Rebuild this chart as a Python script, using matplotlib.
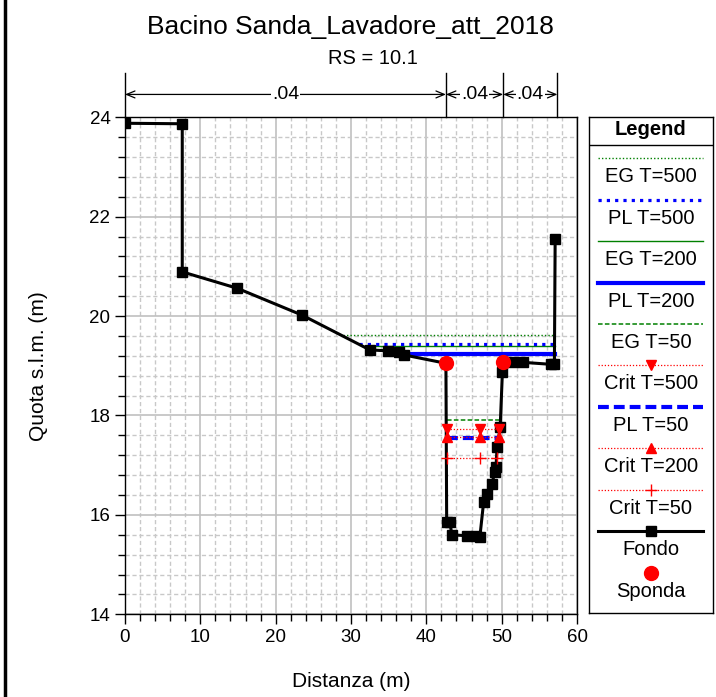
import matplotlib
matplotlib.use('Agg')
import matplotlib.pyplot as plt
from matplotlib.lines import Line2D
from matplotlib.ticker import MultipleLocator

plt.rcParams['font.family'] = ['Liberation Sans', 'DejaVu Sans']

# ---------------- data ----------------
fondo_x = [0, 7.6, 7.6, 14.9, 23.5, 32.5, 34.95, 36.4, 37.0, 42.6, 42.7, 43.1, 43.4,
           45.4, 46.6, 47.1, 47.6, 48.1, 48.7, 49.1, 49.25, 49.4, 49.8, 50.1, 50.2,
           51.5, 52.8, 56.5, 57.0, 57.1]
fondo_y = [23.88, 23.87, 20.89, 20.56, 20.02, 19.32, 19.30, 19.28, 19.22, 19.05, 15.86,
           15.86, 15.60, 15.58, 15.58, 15.55, 16.25, 16.43, 16.62, 16.87, 16.97, 17.37,
           17.76, 18.88, 19.08, 19.08, 19.07, 19.03, 19.04, 21.55]

sponda_x = [42.6, 50.2]
sponda_y = [19.05, 19.08]

eg500_x = [28.9, 57.1]; eg500_y = [19.61, 19.61]
pl500_x = [31.1, 57.1]; pl500_y = [19.43, 19.43]
eg200_x = [31.5, 57.1]; eg200_y = [19.40, 19.40]
pl200_x = [36.9, 57.1]; pl200_y = [19.24, 19.24]
eg50_x = [42.7, 49.8]; eg50_y = [17.91, 17.91]
crit500_x = [42.7, 47.1, 49.7]; crit500_y = [17.72, 17.72, 17.72]
pl50_x = [42.7, 49.7]; pl50_y = [17.54, 17.54]
crit200_x = [42.7, 47.1, 49.7]; crit200_y = [17.57, 17.57, 17.57]
crit50_x = [42.7, 47.1, 49.4]; crit50_y = [17.15, 17.15, 17.15]

n_breaks = [0, 42.6, 50.2, 57.4]
n_values = [0.04, 0.04, 0.04]

title = "Bacino Sanda_Lavadore_att_2018"
subtitle = "RS = 10.1"
legend_labels = ["EG T=500", "PL T=500", "EG T=200", "PL T=200", "EG T=50",
                 "Crit T=500", "PL T=50", "Crit T=200", "Crit T=50", "Fondo", "Sponda"]

# ---------------- styles ----------------
GREEN = '#008000'
BLUE = '#0000ff'
RED = '#ff0000'
styles = {
    "EG T=500": dict(color=GREEN, lw=1.0, ls=(0, (1, 1.5))),
    "PL T=500": dict(color=BLUE, lw=2.3, ls=(0, (1, 1.6))),
    "EG T=200": dict(color=GREEN, lw=1.0, ls='-'),
    "PL T=200": dict(color=BLUE, lw=3.0, ls='-'),
    "EG T=50": dict(color=GREEN, lw=1.1, ls=(0, (3, 1.5))),
    "Crit T=500": dict(color=RED, lw=0.9, ls=(0, (1, 1.5)), marker='v', ms=6.5),
    "PL T=50": dict(color=BLUE, lw=3.0, ls=(0, (2.6, 1.2))),
    "Crit T=200": dict(color=RED, lw=0.9, ls=(0, (1, 1.5)), marker='^', ms=6.5),
    "Crit T=50": dict(color=RED, lw=0.9, ls=(0, (1, 1.5)), marker='+', ms=8, mew=1.0),
    "Fondo": dict(color='black', lw=2.2, ls='-', marker='s', ms=6.8),
    "Sponda": dict(color=RED, lw=0, ls='none', marker='o', ms=10),
}

fig = plt.figure(figsize=(7.16, 6.97), dpi=100)
W, H = 716, 697
ax = fig.add_axes([125 / W, 1 - 614.3 / H, (577 - 125) / W, (614.3 - 117.3) / H])

ax.set_xlim(0, 60)
ax.set_ylim(14, 24)
ax.xaxis.set_major_locator(MultipleLocator(10))
ax.xaxis.set_minor_locator(MultipleLocator(2))
ax.yaxis.set_major_locator(MultipleLocator(2))
ax.yaxis.set_minor_locator(MultipleLocator(0.4))
ax.grid(which='major', color='#c0c0c0', lw=1.2, ls='-')
ax.grid(which='minor', color='#c8c8c8', lw=1.0, ls=(0, (3, 2)))
ax.set_axisbelow(True)
ax.tick_params(which='major', direction='out', length=7, width=1, labelsize=13.5, color='black')
ax.tick_params(which='minor', direction='out', length=5, width=1, color='black')
for s in ax.spines.values():
    s.set_linewidth(1.0)

series = [
    ("EG T=500", eg500_x, eg500_y),
    ("EG T=200", eg200_x, eg200_y),
    ("EG T=50", eg50_x, eg50_y),
    ("PL T=500", pl500_x, pl500_y),
    ("PL T=200", pl200_x, pl200_y),
    ("PL T=50", pl50_x, pl50_y),
]
for name, xs, ys in series:
    st = styles[name]
    ax.plot(xs, ys, color=st['color'], lw=st['lw'], ls=st['ls'], zorder=3)

st = styles["Fondo"]
ax.plot(fondo_x, fondo_y, color='black', lw=st['lw'], marker='s', ms=st['ms'], zorder=4)

for name, xs, ys in [("Crit T=500", crit500_x, crit500_y),
                     ("Crit T=200", crit200_x, crit200_y),
                     ("Crit T=50", crit50_x, crit50_y)]:
    st = styles[name]
    ax.plot(xs, ys, color=st['color'], lw=st['lw'], ls=st['ls'], marker=st['marker'],
            ms=st['ms'], mew=st.get('mew', 1.0), zorder=5)

ax.plot(sponda_x, sponda_y, ls='none', marker='o', ms=10, color=RED, zorder=6)

ax.set_xlabel("Distanza (m)", fontsize=15, labelpad=19)
ax.set_ylabel("Quota s.l.m. (m)", fontsize=15, labelpad=30)

# Manning n annotations above plot
y_arrow = 24.46
y_top = 24.89
for xb in n_breaks:
    ax.plot([xb, xb], [24.0, y_top], color='black', lw=1.0, clip_on=False, zorder=7)
for i, nv in enumerate(n_values):
    x0, x1 = n_breaks[i], n_breaks[i + 1]
    ax.annotate('', xy=(x0, y_arrow), xytext=(x1, y_arrow),
                arrowprops=dict(arrowstyle='<->,head_length=0.6,head_width=0.25',
                                color='black', lw=0.9, shrinkA=0, shrinkB=0),
                annotation_clip=False)
    lab = ('%.2f' % nv).lstrip('0')
    ax.text((x0 + x1) / 2, y_arrow, lab, ha='center', va='center', fontsize=14,
            bbox=dict(facecolor='white', edgecolor='none', pad=0.6), clip_on=False, zorder=8)

fig.text(350 / W, 1 - 27 / H, title, ha='center', va='center', fontsize=19)
fig.text(373 / W, 1 - 58 / H, subtitle, ha='center', va='center', fontsize=14.5)

# ---------------- legend box ----------------
lx0, lx1, ly0, ly1 = 589, 712.7, 116.7, 613.3
lax = fig.add_axes([lx0 / W, 1 - ly1 / H, (lx1 - lx0) / W, (ly1 - ly0) / H])
lax.set_xlim(lx0, lx1)
lax.set_ylim(ly1, ly0)
lax.set_xticks([]); lax.set_yticks([])
for s in lax.spines.values():
    s.set_linewidth(1.0)
lax.text((lx0 + lx1) / 2, 129.5, "Legend", ha='center', va='center', fontsize=14.5,
         fontweight='bold')
lax.plot([lx0, lx1], [145, 145], color='black', lw=1.0)
samp0, samp1 = 598, 703
y0, step = 158.3, 41.44
for i, name in enumerate(legend_labels):
    ys = y0 + i * step
    st = styles[name]
    if name == "Sponda":
        lax.plot([(samp0 + samp1) / 2], [ys], ls='none', marker='o', ms=10, color=RED)
    else:
        lax.plot([samp0, samp1], [ys, ys], color=st['color'], lw=st['lw'], ls=st['ls'])
        if 'marker' in st:
            lax.plot([(samp0 + samp1) / 2], [ys], ls='none', marker=st['marker'],
                     ms=st['ms'], mew=st.get('mew', 1.0), color=st['color'])
    lax.text((lx0 + lx1) / 2, ys + 18.5, name, ha='center', va='center', fontsize=14.5)

# left border line of the figure
fig.add_artist(Line2D([5 / W, 5 / W], [0, 1], color='black', lw=2.5))

fig.savefig('out.png', dpi=100)
